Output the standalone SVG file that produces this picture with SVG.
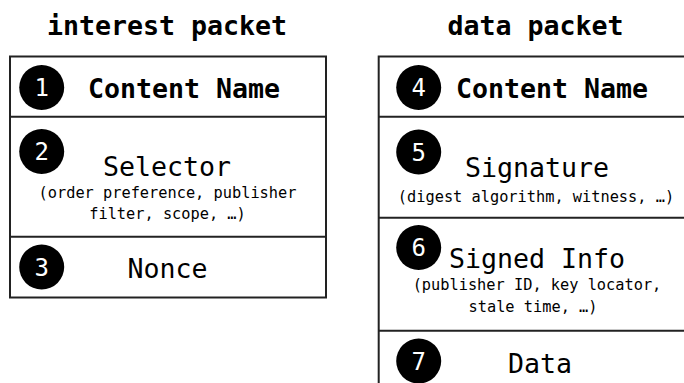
<svg xmlns="http://www.w3.org/2000/svg" width="684" height="383" viewBox="0 0 684 383">
<style>
text{font-family:"DejaVu Sans Mono","Liberation Mono",monospace;fill:#000;text-anchor:middle}
.t{font-size:26.6px;font-weight:bold}
.b{font-size:26.6px;font-weight:bold}
.m{font-size:26.6px}
.s{font-size:15.3px}
.n{font-size:24px;fill:#fff}
.box{fill:#fff;stroke:#222;stroke-width:2}
.d{stroke:#222;stroke-width:2}
.c{fill:#000}
</style>
<rect width="684" height="383" fill="#fff"/>
<g id="interest-packet">
<text class="t" x="167" y="35">interest packet</text>
<rect class="box" x="10" y="56.5" width="316" height="241"/>
<line class="d" x1="10" y1="116.7" x2="326" y2="116.7"/>
<line class="d" x1="10" y1="236.7" x2="326" y2="236.7"/>
</g>
<g id="node1">
<circle class="c" cx="41.7" cy="87.5" r="22.5"/>
<text class="n" x="41.7" y="96">1</text>
<text class="b" x="184" y="98">Content Name</text>
</g>
<g id="node2">
<circle class="c" cx="41.7" cy="151.5" r="22.5"/>
<text class="n" x="41.7" y="160">2</text>
<text class="m" x="167" y="176">Selector</text>
<text class="s" x="167.5" y="198">(order preference, publisher</text>
<text class="s" x="167.5" y="219">filter, scope, …)</text>
</g>
<g id="node3">
<circle class="c" cx="41.7" cy="267" r="22.5"/>
<text class="n" x="41.7" y="275.5">3</text>
<text class="m" x="167.5" y="278">Nonce</text>
</g>
<g id="data-packet">
<text class="t" x="535.5" y="35">data packet</text>
<rect class="box" x="378.7" y="56.5" width="320" height="350"/>
<line class="d" x1="378.7" y1="116.7" x2="684" y2="116.7"/>
<line class="d" x1="378.7" y1="217.7" x2="684" y2="217.7"/>
<line class="d" x1="378.7" y1="330.7" x2="684" y2="330.7"/>
</g>
<g id="node4">
<circle class="c" cx="418.7" cy="87.5" r="22.5"/>
<text class="n" x="418.7" y="96">4</text>
<text class="b" x="552" y="98">Content Name</text>
</g>
<g id="node5">
<circle class="c" cx="418.7" cy="152" r="22.5"/>
<text class="n" x="418.7" y="160.5">5</text>
<text class="m" x="537" y="176.5">Signature</text>
<text class="s" x="536" y="202">(digest algorithm, witness, …)</text>
</g>
<g id="node6">
<circle class="c" cx="418.7" cy="247.5" r="22.5"/>
<text class="n" x="418.7" y="256">6</text>
<text class="m" x="537" y="268">Signed Info</text>
<text class="s" x="537" y="290">(publisher ID, key locator,</text>
<text class="s" x="533" y="312">stale time, …)</text>
</g>
<g id="node7">
<circle class="c" cx="418.7" cy="361" r="22.5"/>
<text class="n" x="418.7" y="369.5">7</text>
<text class="m" x="540" y="373">Data</text>
</g>
<g id="connectors"/>
</svg>
